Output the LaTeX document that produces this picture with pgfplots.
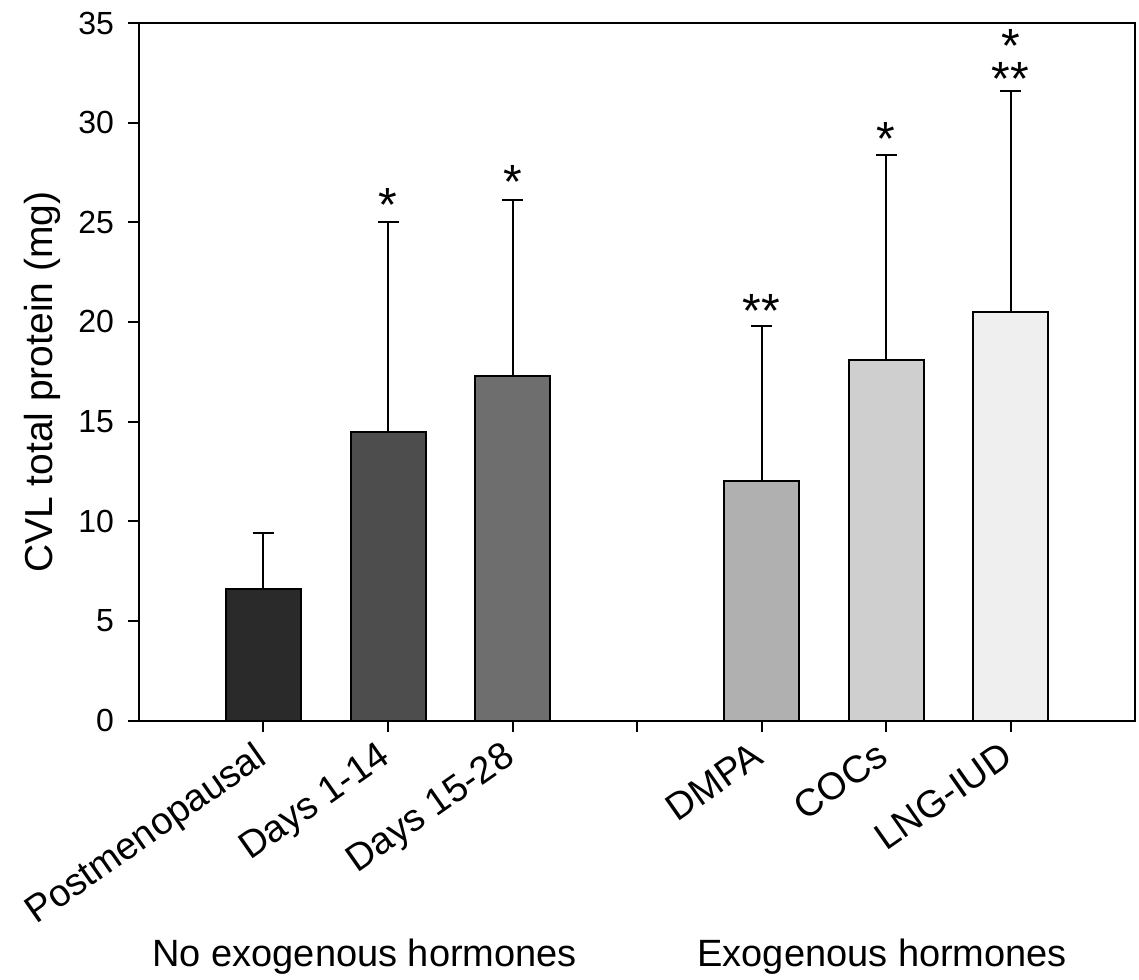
\documentclass[border=0pt]{standalone}
\usepackage{fontspec}
\setmainfont{Liberation Sans}
\usepackage{pgfplots}
\pgfplotsset{compat=1.18}
\definecolor{c1}{HTML}{2A2A2A}
\definecolor{c2}{HTML}{4D4D4D}
\definecolor{c3}{HTML}{6E6E6E}
\definecolor{c5}{HTML}{B0B0B0}
\definecolor{c6}{HTML}{CFCFCF}
\definecolor{c7}{HTML}{EFEFEF}
\begin{document}
\begin{tikzpicture}
\useasboundingbox (-69.5pt,-129.25pt) rectangle (500pt,360.25pt);
\begin{axis}[
  at={(0,0)}, anchor=south west,
  width=498pt, height=348.75pt, scale only axis,
  xmin=0, xmax=8, ymin=0, ymax=35,
  xtick={1,2,3,4,5,6,7},
  xticklabels={Postmenopausal, Days 1-14, Days 15-28, {}, DMPA, COCs, LNG-IUD},
  ytick={0,5,10,15,20,25,30,35},
  tick align=outside, major tick length=5.5pt,
  xtick pos=bottom, ytick pos=left,
  axis line style={line width=1pt},
  major tick style={line width=1pt, black},
  /pgf/number format/assume math mode=true,
  yticklabel style={font=\fontsize{16}{18}\selectfont, xshift=-3.5pt},
  xticklabel style={font=\fontsize{19}{21}\selectfont, xshift=-5.5pt, yshift=-4pt, rotate=35, anchor=north east, inner sep=0pt},
  clip=false,
  every axis plot/.append style={ybar, bar width=37.5pt, bar shift=0pt, draw=black, line width=1pt},
  error bars/y dir=plus, error bars/y explicit,
  error bars/error mark=|,
  error bars/error bar style={line width=1pt, black},
  error bars/error mark options={line width=1pt, mark size=5.25pt, black},
]
\addplot[fill=c1] coordinates {(1,6.6) +- (0,2.8)};
\addplot[fill=c2] coordinates {(2,14.5) +- (0,10.5)};
\addplot[fill=c3] coordinates {(3,17.3) +- (0,8.8)};
\addplot[fill=c5] coordinates {(5,12.0) +- (0,7.8)};
\addplot[fill=c6] coordinates {(6,18.1) +- (0,10.3)};
\addplot[fill=c7] coordinates {(7,20.5) +- (0,11.1)};

\begin{scope}[every node/.style={anchor=base, font=\fontsize{24}{26}\selectfont, inner sep=0pt}]
\node at (axis cs:2,25.06) {*};
\node at (axis cs:3,26.17) {*};
\node at (axis cs:5,19.74) {**};
\node at (axis cs:6,28.37) {*};
\node at (axis cs:7,31.38) {**};
\node at (axis cs:7,33.04) {*};
\end{scope}

\node[rotate=90, anchor=base, font=\fontsize{19.5}{22}\selectfont, inner sep=0pt] at ([xshift=-43pt]rel axis cs:0,0.485) {CVL total protein (mg)};
\node[anchor=base west, font=\fontsize{19}{21}\selectfont, inner sep=0pt] at ([shift={(6.5pt,-122.75pt)}]rel axis cs:0,0) {No exogenous hormones};
\node[anchor=base west, font=\fontsize{19}{21}\selectfont, inner sep=0pt] at ([shift={(279pt,-122.75pt)}]rel axis cs:0,0) {Exogenous hormones};
\end{axis}
\end{tikzpicture}
\end{document}
